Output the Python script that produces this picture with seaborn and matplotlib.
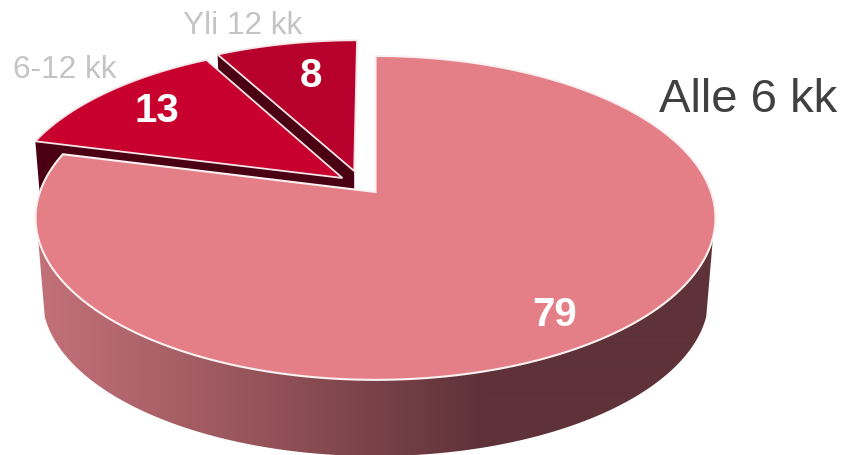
import numpy as np
import matplotlib
matplotlib.use('Agg')
import matplotlib.pyplot as plt
from matplotlib.colors import ListedColormap
from matplotlib.patches import Polygon
import seaborn as sns

# data
labels = ['Alle 6 kk', '6-12 kk', 'Yli 12 kk']
values = [79, 13, 8]

# slice look, in the same order as the data
top_colors = ['#E57F87', '#C8002E', '#B8002C']
cut_color = '#4A0012'
label_colors = ['#404040', '#C4C4C4', '#C4C4C4']
explode = [(0, 0), (-0.10, 0.09), (-0.065, 0.136)]
value_pos = [(555, 315), (157, 111), (311, 76)]
label_pos = [(748, 100), (65, 70), (243, 26)]
label_size = [34, 22.8, 22.8]

# tilted view of the pie
CX, CY = 375.5, 193
SX, SY = 335.6, 157.8
K = 0.16
DEPTH = 80
SHRINK = 0.98

sns.set_theme(style='white')
plt.rcParams['font.family'] = ['Liberation Sans', 'DejaVu Sans']


def project(u, v, low=False):
    u = np.asarray(u, dtype=float)
    v = np.asarray(v, dtype=float)
    w = 1 + K * v
    x, y = SX * u / w, SY * v / w
    if low:
        return np.c_[CX + SHRINK * x, CY - SHRINK * y + DEPTH]
    return np.c_[CX + x, CY - y]


def rim(a0, a1, off=(0, 0), low=False):
    a = np.radians(np.linspace(a0, a1, 200))
    return project(np.sin(a) + off[0], np.cos(a) + off[1], low)


def apex(off=(0, 0), low=False):
    return project([off[0]], [off[1]], low)


fig = plt.figure(figsize=(8.46, 4.56), dpi=100)
ax = fig.add_axes([0, 0, 1, 1])
ax.set_xlim(0, 846)
ax.set_ylim(456, 0)
ax.axis('off')

edges = np.cumsum([0] + values) / sum(values) * 360

# small slices first, the far one at the back
for i in [2, 1]:
    a0, a1 = edges[i], edges[i + 1]
    off = explode[i]
    # cut face on the side that looks at the big slice
    a_cut = a0
    corner = rim(a_cut, a_cut, off)[:1]
    corner_low = rim(a_cut, a_cut, off, low=True)[:1]
    face = np.vstack([corner, apex(off), apex(off, True), corner_low])
    ax.add_patch(Polygon(face, closed=True, fc=cut_color, ec='none', zorder=2 + (2 - i) * 2))
    top = np.vstack([apex(off), rim(a0, a1, off)])
    ax.add_patch(Polygon(top, closed=True, fc=top_colors[i], ec='#F6E4E6', lw=1.3,
                         joinstyle='miter', zorder=3 + (2 - i) * 2))

# wall of the big slice, with the shading running left to right
wall = np.vstack([rim(106, 254), rim(106, 254, low=True)[::-1]])
pal = sns.blend_palette(['#CB767E', '#9A565D', '#5E3238'], 484)
pal = pal + [pal[-1]] * 362
im = ax.imshow(np.arange(846)[None, :], extent=(0, 846, 456, 0), aspect='auto',
               cmap=ListedColormap(pal), interpolation='bilinear', zorder=7)
im.set_clip_path(Polygon(wall, closed=True, transform=ax.transData))
ax.set_xlim(0, 846)
ax.set_ylim(456, 0)

# top of the big slice
main_top = np.vstack([apex(), rim(edges[0], edges[1])])
ax.add_patch(Polygon(main_top, closed=True, fc=top_colors[0], ec='#FBF1F2', lw=1.5,
                     joinstyle='miter', zorder=8))

for i in range(3):
    ax.text(*value_pos[i], str(values[i]), color='white', fontsize=29, fontweight='bold',
            ha='center', va='center', zorder=10)
    ax.text(*label_pos[i], labels[i], color=label_colors[i], fontsize=label_size[i],
            ha='center', va='center', zorder=10)

fig.savefig('out.png', dpi=100)
